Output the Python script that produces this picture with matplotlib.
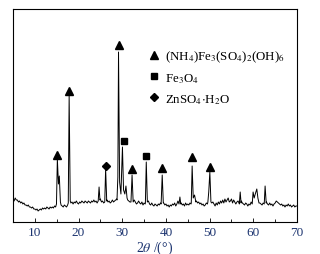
import numpy as np
import matplotlib
matplotlib.use("Agg")
import matplotlib.pyplot as plt
from matplotlib.lines import Line2D
from matplotlib.ticker import MultipleLocator

plt.rcParams['font.family'] = ['Liberation Serif', 'DejaVu Serif']
plt.rcParams['mathtext.fontset'] = 'stix'

LABEL_COLOR = '#1c3470'

# baseline of the pattern, one value every 0.25 deg from 5 to 70 (arb. units)
base_y = [
    23, 21, 24, 22,  22, 20, 21, 19,  20, 18, 19, 17,  17, 16, 17, 15,  15, 14, 15, 13,   # 5-9
    13, 12, 13, 11,  12, 13, 12, 14,  13, 14, 13, 15,  14, 13, 15, 14,  15, 14, 16, 15,   # 10-14
    16, 17, 16, 19,  17, 16, 15, 17,  16, 15, 17, 18,  21, 19, 20, 18,  20, 19, 21, 19,   # 15-19
    18, 20, 19, 21,  20, 19, 21, 20,  19, 21, 20, 19,  21, 20, 22, 20,  21, 19, 22, 20,   # 20-24
    23, 20, 21, 19,  20, 21, 22, 20,  21, 19, 20, 22,  20, 21, 22, 23,  25, 30, 28, 26,   # 25-29
    30, 29, 27, 26,  24, 22, 21, 20,  21, 20, 19, 22,  20, 18, 19, 21,  19, 18, 20, 17,   # 30-34
    19, 18, 20, 18,  21, 18, 17, 19,  17, 16, 18, 17,  16, 18, 17, 19,  17, 18, 19, 17,   # 35-39
    18, 16, 17, 15,  17, 16, 18, 17,  19, 16, 18, 21,  20, 22, 19, 17,  18, 16, 19, 17,   # 40-44
    18, 17, 19, 18,  20, 22, 25, 23,  21, 19, 20, 18,  19, 17, 18, 16,  17, 19, 18, 22,   # 45-49
    25, 22, 19, 20,  18, 16, 19, 17,  20, 18, 21, 19,  22, 19, 23, 20,  22, 24, 20, 21,   # 50-54
    23, 19, 22, 20,  18, 20, 21, 19,  22, 21, 19, 18,  17, 19, 18, 16,  18, 17, 20, 22,   # 55-59
    25, 24, 26, 27,  23, 21, 19, 18,  17, 19, 22, 27,  20, 18, 17, 19,  17, 18, 16, 18,   # 60-64
    19, 21, 20, 19,  18, 17, 18, 16,  17, 15, 17, 16,  18, 16, 17, 15,  16, 17, 15, 16,   # 65-69
    16,
]
base_x = np.linspace(5, 70, len(base_y))

# diffraction peaks, each as a short run of (2theta, intensity) points
peaks = [
    ([14.95, 15.15, 15.4, 15.6, 15.85], [18, 63, 38, 46, 20]),
    ([17.65, 17.85, 18.1], [19, 126, 21]),
    ([24.5, 24.7, 24.9], [21, 35, 22]),
    ([26.0, 26.2, 26.45], [20, 53, 21]),
    ([28.8, 29.0, 29.15, 29.4, 29.7, 30.05, 30.3, 30.6, 30.85, 31.1],
     [22, 45, 170, 40, 28, 75, 32, 28, 36, 24]),
    ([32.0, 32.25, 32.5], [20, 47, 20]),
    ([35.3, 35.5, 35.75], [19, 60, 20]),
    ([38.9, 39.15, 39.4], [18, 47, 19]),
    ([43.0, 43.2, 43.4], [18, 25, 18]),
    ([45.8, 46.0, 46.25, 46.55, 46.85], [19, 56, 24, 27, 20]),
    ([49.6, 49.8, 50.05, 50.3], [20, 30, 50, 20]),
    ([56.8, 57.0, 57.2], [18, 30, 19]),
    ([59.75, 59.95, 60.2, 60.45, 60.8, 61.05, 61.3], [18, 30, 24, 28, 33, 24, 19]),
    ([62.5, 62.7, 62.95], [18, 36, 19]),
]

# phase markers: position and height
tri_x = [15.1, 17.9, 29.2, 32.35, 39.2, 46.05, 50.0]
tri_y = [67, 131, 177, 53, 54, 65, 55]
sq_x = [30.3, 35.45]
sq_y = [81, 66]
dia_x = [26.2]
dia_y = [56]

# merge baseline and peaks
keep = np.ones(len(base_x), dtype=bool)
for px, py in peaks:
    keep &= ~((base_x >= px[0]) & (base_x <= px[-1]))
all_x = list(base_x[keep])
all_y = list(np.array(base_y)[keep])
for px, py in peaks:
    all_x += px
    all_y += py
order = np.argsort(all_x)
xx = np.array(all_x)[order]
yy = np.array(all_y)[order]

fig = plt.figure(figsize=(3.2, 2.55), dpi=100)
ax = fig.add_axes([13 / 320, 32 / 255, 284 / 320, 213 / 255])

ax.plot(xx, yy, color='black', lw=0.7)
ax.plot(tri_x, tri_y, '^', color='black', ms=6.2, ls='None')
ax.plot(sq_x, sq_y, 's', color='black', ms=5, ls='None')
ax.plot(dia_x, dia_y, 'D', color='black', ms=4.2, ls='None')

ax.set_xlim(5, 70)
ax.set_ylim(0, 213)
ax.xaxis.set_major_locator(MultipleLocator(10))
ax.xaxis.set_minor_locator(MultipleLocator(5))
ax.tick_params(axis='x', which='both', direction='in', top=False,
               labelsize=9.5, labelcolor=LABEL_COLOR, pad=3)
ax.tick_params(axis='x', which='major', length=3, width=0.6)
ax.tick_params(axis='x', which='minor', length=2, width=0.6)
ax.set_yticks([])
ax.set_xticks([10, 20, 30, 40, 50, 60, 70])
for s in ax.spines.values():
    s.set_linewidth(0.8)

ax.set_xlabel(r'2$\theta$ /(°)', fontsize=10, color=LABEL_COLOR, labelpad=0)

handles = [
    Line2D([], [], marker='^', color='black', ls='None', ms=6.2),
    Line2D([], [], marker='s', color='black', ls='None', ms=5),
    Line2D([], [], marker='D', color='black', ls='None', ms=4.2),
]
labels = [
    r'(NH$_4$)Fe$_3$(SO$_4$)$_2$(OH)$_6$',
    r'Fe$_3$O$_4$',
    r'ZnSO$_4$$\cdot$H$_2$O',
]
ax.legend(handles, labels, loc='upper left', bbox_to_anchor=(0.48, 0.815),
          frameon=False, fontsize=9.3, handlelength=0.8, handletextpad=0.4,
          labelspacing=0.55, borderpad=0, borderaxespad=0)

fig.savefig('out.png', dpi=100)
